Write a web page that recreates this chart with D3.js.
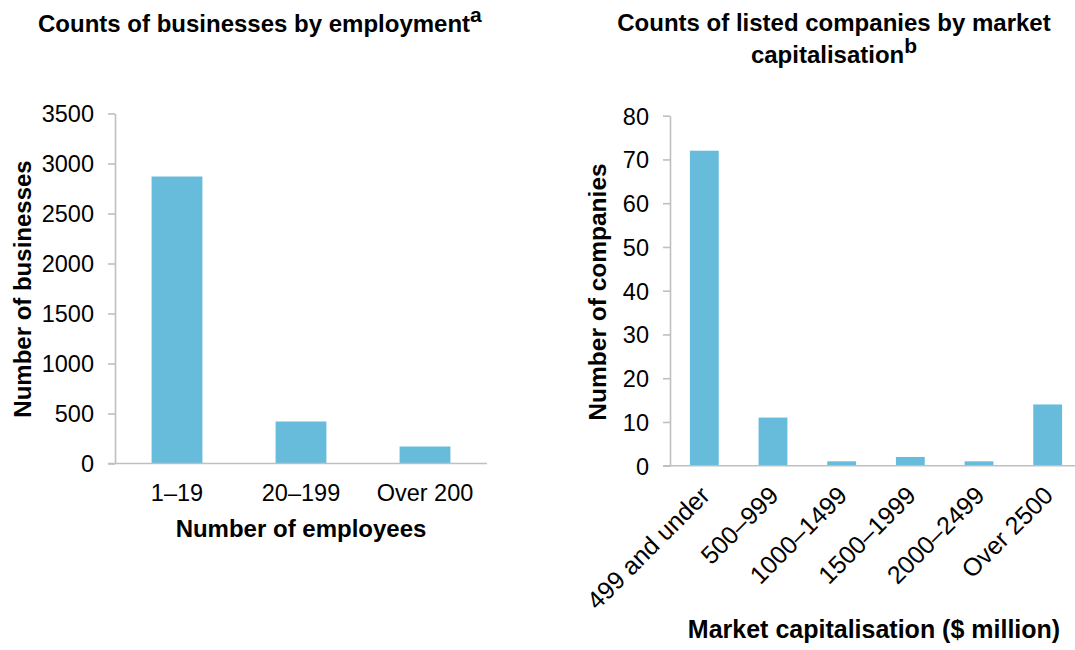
<!DOCTYPE html>
<html><head><meta charset="utf-8">
<script src="https://cdn.jsdelivr.net/npm/d3@7"></script>
<style>
body{margin:0;background:#fff;}
svg{display:block;font-family:"Liberation Sans",Arial,sans-serif;}
</style></head><body>
<svg id="c" width="1075" height="650"></svg>
<script>
// Left panel data
const empCategories = ["1–19", "20–199", "Over 200"];
const empValues = [2870, 420, 170];
const empTicks = [0, 500, 1000, 1500, 2000, 2500, 3000, 3500];

// Right panel data
const capCategories = ["499 and under", "500–999", "1000–1499", "1500–1999", "2000–2499", "Over 2500"];
const capValues = [72, 11, 1, 2, 1, 14];
const capTicks = [0, 10, 20, 30, 40, 50, 60, 70, 80];

const BAR = "#67bcdb", AXIS = "#bfbfbf", TICKFS = 23.5, TITLEFS = 24, AXTFS = 24;
const svg = d3.select("#c");

function panel(o) {
  const x = d3.scaleBand().domain(o.cats).range([o.x0, o.x1]).paddingInner(o.pad).paddingOuter(o.pad/2);
  const y = d3.scaleLinear().domain([0, o.max]).range([o.y0, o.y1]);
  const g = svg.append("g");
  const ya = g.append("g").attr("transform", `translate(${o.x0},0)`)
    .call(d3.axisLeft(y).tickValues(o.ticks).tickFormat(d3.format("d")).tickSize(7).tickPadding(14).tickSizeOuter(0));
  ya.select(".domain").attr("stroke", AXIS).attr("stroke-width", 1.6);
  ya.selectAll(".tick line").attr("stroke", AXIS).attr("stroke-width", 1.6);
  ya.selectAll(".tick text").attr("font-size", TICKFS).attr("fill", "#000")
    .attr("font-family", "Liberation Sans, Arial, sans-serif").attr("dy", "0.36em");
  g.selectAll("rect").data(o.vals).join("rect")
    .attr("x", (d, i) => x(o.cats[i])).attr("width", x.bandwidth())
    .attr("y", d => y(d)).attr("height", d => y(0) - y(d)).attr("fill", BAR);
  g.append("line").attr("x1", o.x0 - 7).attr("x2", Math.min(o.x1, 1075)).attr("y1", y(0)).attr("y2", y(0))
    .attr("stroke", AXIS).attr("stroke-width", 1.6);
  return {x, y, g};
}

// Left
const L = panel({cats: empCategories, vals: empValues, ticks: empTicks, max: 3500,
  x0: 115, x1: 487, y0: 463.5, y1: 113.5, pad: 0.59});
L.g.selectAll(".xl").data(empCategories).join("text").attr("class", "xl")
  .attr("x", d => L.x(d) + L.x.bandwidth()/2).attr("y", 501)
  .attr("text-anchor", "middle").attr("font-size", TICKFS).text(d => d);
L.g.append("text").attr("x", 301).attr("y", 537).attr("text-anchor", "middle")
  .attr("font-size", AXTFS).attr("font-weight", "bold").text("Number of employees");
L.g.append("text").attr("transform", "translate(31,289) rotate(-90)").attr("text-anchor", "middle")
  .attr("font-size", AXTFS).attr("font-weight", "bold").text("Number of businesses");
const t1 = L.g.append("text").attr("x", 38).attr("y", 32).attr("font-size", TITLEFS).attr("font-weight", "bold");
t1.append("tspan").text("Counts of businesses by employment");
t1.append("tspan").attr("dy", -10).attr("font-size", 21).text("a");

// Right
const R = panel({cats: capCategories, vals: capValues, ticks: capTicks, max: 80,
  x0: 670, x1: 1082, y0: 465.7, y1: 115.7, pad: 0.58});
R.g.selectAll(".xl").data(capCategories).join("text").attr("class", "xl")
  .attr("transform", d => `translate(${R.x(d) + R.x.bandwidth()/2 + 7},497) rotate(-45)`)
  .attr("text-anchor", "end").attr("font-size", 25).text(d => d);
R.g.append("text").attr("x", 874).attr("y", 638).attr("text-anchor", "middle")
  .attr("font-size", 25).attr("font-weight", "bold").text("Market capitalisation ($ million)");
R.g.append("text").attr("transform", "translate(606,292) rotate(-90)").attr("text-anchor", "middle")
  .attr("font-size", 24.5).attr("font-weight", "bold").text("Number of companies");
R.g.append("text").attr("x", 834).attr("y", 31).attr("text-anchor", "middle")
  .attr("font-size", TITLEFS).attr("font-weight", "bold").text("Counts of listed companies by market");
const t2 = R.g.append("text").attr("x", 834).attr("y", 63).attr("text-anchor", "middle")
  .attr("font-size", TITLEFS).attr("font-weight", "bold");
t2.append("tspan").text("capitalisation");
t2.append("tspan").attr("dy", -10).attr("font-size", 21).text("b");
</script>
</body></html>
